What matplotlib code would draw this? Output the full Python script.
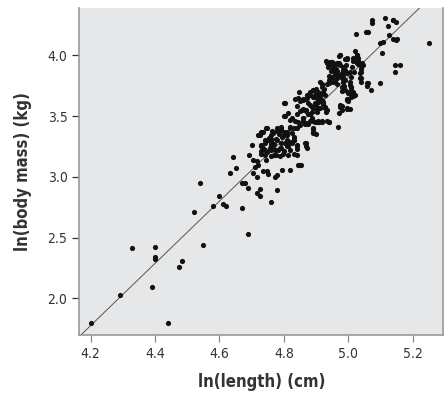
import matplotlib
matplotlib.use("Agg")
import matplotlib.pyplot as plt
import numpy as np

# ---- data: (ln length, ln body mass) ----
ln_length = [
    4.20, 4.29, 4.33, 4.39, 4.40, 4.40, 4.40, 4.44, 4.475, 4.485,
    4.52, 4.54, 4.55, 4.58, 4.60, 4.61, 4.62, 4.632, 4.643, 4.653,
    4.669, 4.669, 4.679, 4.69, 4.69, 4.692, 4.70, 4.705, 4.716, 4.72,
    4.71, 4.705, 4.716, 4.736, 4.747, 4.752, 4.778, 4.772, 4.726, 4.716,
    4.726, 4.778, 4.76, 4.793, 4.819, 4.845, 4.853, 4.76, 4.76, 4.756,
    4.772, 4.787, 4.797, 4.776, 4.814, 4.809, 4.824, 4.84, 4.84, 4.72,
    4.73, 4.73, 4.73, 4.745, 4.74, 4.74, 4.76, 4.76, 4.77, 4.77,
    4.78, 4.79, 4.80, 4.80, 4.81, 4.80, 4.81, 4.82, 4.82, 4.83,
    4.84, 4.85, 4.85, 4.86, 4.87, 4.87, 4.848, 4.891, 4.899, 4.907,
    4.912, 4.915, 4.922, 4.928, 4.834, 4.843, 4.850, 4.860, 4.871, 4.881,
    4.803, 4.84, 4.85, 4.86, 4.87, 4.814, 4.824, 4.834, 4.803, 4.881,
    4.886, 4.897, 4.907, 4.917, 4.933, 4.87, 4.88, 4.89, 4.89, 4.90,
    4.747, 4.736, 4.726, 4.78, 4.79, 4.79, 4.80, 4.81, 4.82, 4.83,
    4.84, 4.76, 4.76, 4.76, 4.76, 4.73, 4.74, 4.73, 4.78, 4.79,
    4.81, 4.82, 4.83, 4.84, 4.84, 4.87, 4.87, 4.80, 4.82, 4.83,
    4.974, 4.995, 5.016, 5.026, 5.031, 5.036, 5.04, 4.933, 4.943, 4.953,
    4.964, 4.974, 4.984, 4.990, 4.995, 5.005, 4.953, 4.959, 4.948, 4.953,
    4.964, 4.969, 4.979, 4.984, 4.912, 4.917, 4.922, 4.928, 5.036, 5.04,
    5.005, 5.01, 5.016, 5.021, 4.871, 4.881, 4.891, 4.897, 4.902, 4.907,
    4.86, 4.876, 4.886, 4.897, 4.902, 4.912, 4.922, 4.974, 4.979, 5.0,
    5.005, 5.073, 5.073, 5.114, 5.124, 5.14, 5.148, 5.024, 5.055, 5.126,
    5.14, 5.148, 5.107, 5.104, 4.974, 4.997, 5.021, 5.026, 5.031, 5.016,
    5.026, 5.042, 5.047, 5.145, 5.161, 5.145, 4.948, 4.959, 4.948, 4.964,
    4.979, 4.984, 4.99, 5.036, 5.04, 5.057, 5.057, 5.07, 5.10, 5.005,
    5.01, 5.0, 4.99, 5.005, 5.016, 4.995, 4.995, 4.979, 4.974, 4.995,
    4.997, 4.972, 4.969, 4.941, 4.917, 4.904, 4.891, 4.876, 4.865, 4.889,
    4.889, 4.865, 4.871, 4.855, 4.86, 4.876, 4.886, 4.891, 4.897, 4.881,
    4.907, 4.922, 4.928, 4.933, 4.93, 4.94, 4.94, 4.94, 4.94, 4.94,
    4.95, 4.96, 4.96, 4.97, 4.97, 4.98, 4.98, 4.99, 5.00, 5.00,
    5.01, 5.03, 5.04, 5.06, 5.06, 5.10, 5.14, 5.15, 5.25, 4.90,
    4.91, 4.92, 4.93, 4.92, 4.85, 4.86, 4.88, 4.89, 4.90,
    4.735, 4.742, 4.748, 4.755, 4.765, 4.768, 4.775, 4.785, 4.79, 4.795,
    4.745, 4.752, 4.762, 4.782, 4.788, 4.805, 4.812, 4.826, 4.832, 4.845,
    4.938, 4.945, 4.955, 4.962, 4.968, 4.985, 4.992, 5.012, 5.018, 5.028,
    4.958, 4.966, 4.978, 4.988, 5.008, 4.915, 4.925, 4.935, 4.905, 4.895,
]
ln_mass = [
    1.80, 2.03, 2.41, 2.09, 2.42, 2.34, 2.32, 1.80, 2.26, 2.31,
    2.71, 2.95, 2.44, 2.76, 2.84, 2.78, 2.76, 3.03, 3.16, 3.07,
    2.95, 2.74, 2.946, 2.905, 2.53, 3.18, 3.26, 3.138, 3.133, 3.097,
    3.083, 3.03, 3.00, 3.05, 3.05, 3.023, 3.015, 2.996, 2.897, 2.869,
    2.842, 2.89, 2.79, 3.056, 3.056, 3.097, 3.097, 3.29, 3.26, 3.235,
    3.22, 3.235, 3.188, 3.18, 3.18, 3.253, 3.276, 3.253, 3.18, 3.34,
    3.37, 3.21, 3.25, 3.40, 3.30, 3.18, 3.31, 3.17, 3.27, 3.23,
    3.38, 3.41, 3.61, 3.50, 3.37, 3.34, 3.30, 3.41, 3.47, 3.30,
    3.52, 3.63, 3.43, 3.48, 3.64, 3.55, 3.70, 3.714, 3.695, 3.673,
    3.646, 3.624, 3.597, 3.569, 3.64, 3.65, 3.62, 3.64, 3.65, 3.67,
    3.61, 3.58, 3.54, 3.56, 3.54, 3.523, 3.486, 3.459, 3.50, 3.514,
    3.481, 3.449, 3.459, 3.459, 3.459, 3.44, 3.46, 3.40, 3.37, 3.35,
    3.404, 3.371, 3.344, 3.40, 3.385, 3.40, 3.37, 3.34, 3.40, 3.40,
    3.40, 3.34, 3.295, 3.26, 3.22, 3.26, 3.22, 3.19, 3.30, 3.28,
    3.26, 3.29, 3.30, 3.26, 3.23, 3.28, 3.25, 3.21, 3.22, 3.19,
    4.00, 3.975, 3.975, 4.00, 3.95, 3.92, 3.89, 3.934, 3.947, 3.934,
    3.934, 3.92, 3.906, 3.879, 3.852, 3.865, 3.879, 3.852, 3.824, 3.783,
    3.811, 3.838, 3.811, 3.783, 3.783, 3.742, 3.70, 3.673, 3.811, 3.783,
    3.756, 3.728, 3.70, 3.673, 3.673, 3.70, 3.714, 3.673, 3.646, 3.618,
    3.63, 3.605, 3.577, 3.564, 3.536, 3.564, 3.605, 3.577, 3.55, 3.62,
    3.56, 4.293, 4.266, 4.307, 4.239, 4.293, 4.274, 4.175, 4.192, 4.165,
    4.137, 4.128, 4.11, 4.02, 4.00, 3.97, 4.033, 4.005, 3.978, 3.956,
    3.95, 3.937, 3.923, 3.918, 3.918, 3.863, 3.945, 3.928, 3.881, 3.868,
    3.854, 3.827, 3.80, 3.852, 3.81, 3.775, 3.748, 3.714, 3.77, 3.783,
    3.742, 3.70, 3.714, 3.687, 3.665, 3.638, 3.556, 3.583, 3.59, 3.632,
    3.564, 3.528, 3.407, 3.453, 3.453, 3.453, 3.462, 3.435, 3.435, 3.39,
    3.358, 3.276, 3.235, 3.55, 3.48, 3.52, 3.536, 3.577, 3.605, 3.59,
    3.564, 3.618, 3.577, 3.55, 3.95, 3.93, 3.83, 3.80, 3.77, 3.45,
    3.91, 3.88, 3.85, 3.94, 3.99, 3.71, 3.74, 3.97, 3.64, 3.69,
    3.66, 3.93, 3.86, 4.19, 3.77, 4.10, 4.29, 4.13, 4.10, 3.72,
    3.45, 3.76, 3.53, 3.63, 3.10, 3.46, 3.52, 3.66, 3.58,
    3.24, 3.28, 3.20, 3.32, 3.36, 3.18, 3.31, 3.35, 3.24, 3.33,
    3.14, 3.30, 3.38, 3.22, 3.17, 3.28, 3.25, 3.36, 3.33, 3.45,
    3.90, 3.87, 3.92, 3.89, 3.93, 3.88, 3.92, 3.90, 3.86, 3.94,
    3.80, 3.76, 3.83, 3.75, 3.82, 3.68, 3.72, 3.76, 3.70, 3.66,
]
x_ticks = [4.2, 4.4, 4.6, 4.8, 5.0, 5.2]
y_ticks = [2.0, 2.5, 3.0, 3.5, 4.0]
fit_slope = 2.56
fit_intercept = -8.977
x_label = "ln(length) (cm)"
y_label = "ln(body mass) (kg)"

n = min(len(ln_length), len(ln_mass))
xs = np.array(ln_length[:n])
ys = np.array(ln_mass[:n])

plt.rcParams['font.family'] = ['DejaVu Sans']
plt.rcParams['font.stretch'] = 'condensed'

fig = plt.figure(figsize=(4.48, 3.93), dpi=100)
ax = fig.add_axes([0.177, 0.1476, 0.8125, 0.8314])
ax.set_facecolor('#e6e7e9')

ax.set_xlim(4.165, 5.295)
ax.set_ylim(1.698, 4.387)

xl = np.array(ax.get_xlim())
ax.plot(xl, fit_slope * xl + fit_intercept, color='#555555', lw=0.7, zorder=2)
ax.scatter(xs, ys, s=14, marker='o', color='#111111', linewidths=0, zorder=3)

ax.set_xticks(x_ticks)
ax.set_yticks(y_ticks)
ax.set_xticklabels([f"{v:.1f}" for v in x_ticks])
ax.set_yticklabels([f"{v:.1f}" for v in y_ticks])
ax.tick_params(axis='both', labelsize=10, colors='#333333', length=5, width=0.9)
ax.tick_params(axis='x', color='#888888')
ax.tick_params(axis='y', color='#333333')

for s in ['left', 'right', 'bottom']:
    ax.spines[s].set_color('#999999')
    ax.spines[s].set_linewidth(1.2)
ax.spines['top'].set_visible(False)

ax.set_xlabel(x_label, fontsize=12, fontweight='bold', color='#333333', labelpad=9)
ax.set_ylabel(y_label, fontsize=12, fontweight='bold', color='#333333', labelpad=11)

fig.savefig('out.png', dpi=100)
